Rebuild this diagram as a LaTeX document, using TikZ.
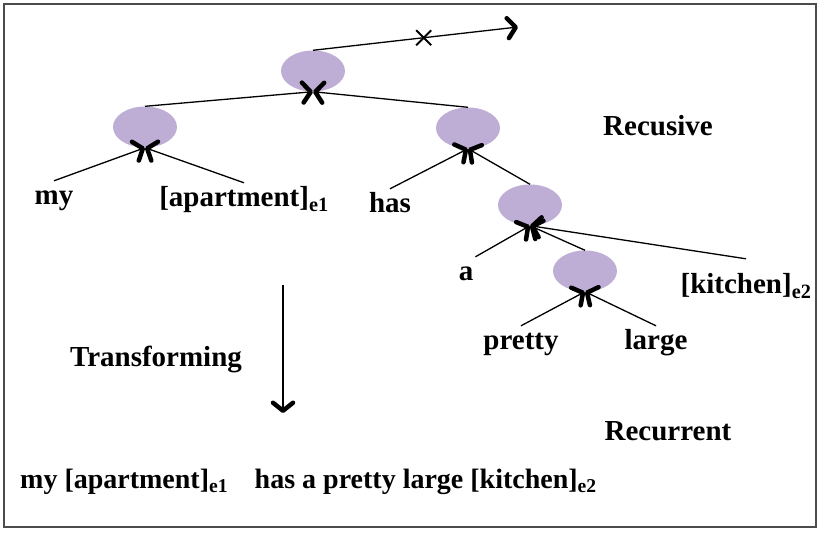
\documentclass[tikz,border=0pt]{standalone}
\usepackage{fontspec}
\setmainfont{Liberation Serif}
\usetikzlibrary{arrows.meta,shapes.geometric,shapes.misc}
\definecolor{cellfill}{RGB}{190,173,212}

\begin{document}
\begin{tikzpicture}[x=1pt,y=-1pt,
		cell/.style={ellipse, fill=cellfill, minimum width=64pt, minimum height=41pt, inner sep=0pt},
		word/.style={font=\fontsize{29}{34}\selectfont\bfseries, anchor=base, text height=22pt, text depth=6pt, inner sep=2pt},
		link/.style={line width=1.3pt, -{Straight Barb[length=8pt,width=20pt,line width=4.5pt,round]}}]
		\useasboundingbox (0,0) rectangle (822,534);
		\draw[line width=2pt, black!70] (4,4) rectangle (816,527);
		
		\node[cell] (root) at (313,71) {};
		\node[cell] (left) at (145,127) {};
		\node[cell] (right) at (468,128) {};
		\node[cell] (mid) at (530,205) {};
		\node[cell] (low) at (585,271) {};
		
		\node[word] (my) at (54,205) {my};
		\node[word] (apt) at (244,207) {[apartment]\textsubscript{e1}};
		\node[word] (has) at (390,213) {has};
		\node[word] (a) at (466,281) {a};
		\node[word] (kitchen) at (746,294) {[kitchen]\textsubscript{e2}};
		\node[word] (pretty) at (521,350) {pretty};
		\node[word] (large) at (656,350) {large};
		
		\node[word] (recusive) at (658,136) {Recusive};
		\node[word] (recurrent) at (668,440) {Recurrent};
		\node[word] (transform) at (156,367) {Transforming};
		\node[word, anchor=base west, font=\fontsize{28}{33}\selectfont\bfseries] (sentence) at (18,488) {my [apartment]\textsubscript{e1}\hspace{0.95em}has a pretty large [kitchen]\textsubscript{e2}};
		
		\draw[link] (my.north) -- (left.south);
		\draw[link] (apt.north) -- (left.south);
		\draw[link] (left.north) -- (root.south);
		\draw[link] (right.north) -- (root.south);
		\draw[link] (has.north) -- (right.south);
		\draw[link] (mid.north) -- (right.south);
		\draw[link] (a.north east) -- (mid.south);
		\draw[link] (low.north) -- (mid.south);
		\draw[link] ([yshift=11pt]kitchen.north) -- (mid.south);
		\draw[link] (pretty.north) -- (low.south);
		\draw[link] (large.north) -- (low.south);
		
		\coordinate (out) at (518,27);
		\draw[link] (root.north) -- node[cross out, draw, pos=0.54, minimum size=13pt, inner sep=0pt, line width=2pt] (cut) {} (out);
		
		\coordinate (down top) at (283,285);
		\coordinate (down end) at (283,413);
		\draw[link] (down top) -- (down end);
	\end{tikzpicture}
\end{document}
